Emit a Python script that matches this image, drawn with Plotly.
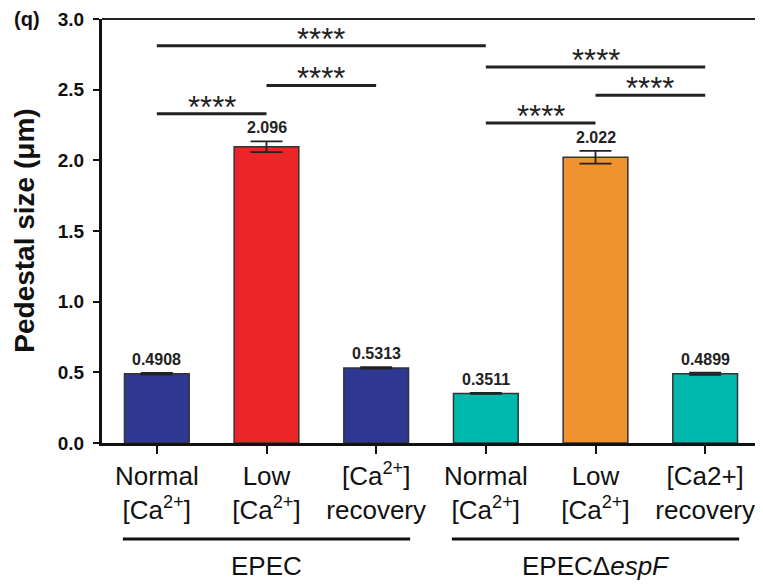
import plotly.graph_objects as go

# ---- data ----
x_pos = [0, 1, 2, 3, 4, 5]
tick_labels = ["Normal<br>[Ca<sup>2+</sup>]", "Low<br>[Ca<sup>2+</sup>]", "[Ca<sup>2+</sup>]<br>recovery",
               "Normal<br>[Ca<sup>2+</sup>]", "Low<br>[Ca<sup>2+</sup>]", "[Ca2+]<br>recovery"]
values = [0.4908, 2.096, 0.5313, 0.3511, 2.022, 0.4899]
errors = [0.006, 0.038, 0.005, 0.004, 0.045, 0.008]
value_labels = ["0.4908", "2.096", "0.5313", "0.3511", "2.022", "0.4899"]
bar_colors = ["#2E3792", "#EC2529", "#2E3792", "#00B8AE", "#F0922F", "#00B8AE"]

sig_start = [0, 1, 0, 3, 4, 3]
sig_end = [3, 2, 1, 5, 5, 4]
sig_level = [2.81, 2.53, 2.33, 2.66, 2.46, 2.265]
sig_text = ["****"] * 6

groups = ["EPEC", "EPECΔ<i>espF</i>"]
group_first = [0, 3]
group_last = [2, 5]

y_ticks = [0.0, 0.5, 1.0, 1.5, 2.0, 2.5, 3.0]
y_tick_text = ["0.0", "0.5", "1.0", "1.5", "2.0", "2.5", "3.0"]

FONT = "Liberation Sans, Arial, Helvetica, sans-serif"

fig = go.Figure()
fig.add_trace(go.Bar(
    x=x_pos, y=values, width=0.59,
    marker=dict(color=bar_colors, line=dict(color="#333333", width=1.5)),
    error_y=dict(type="data", array=errors, visible=True, color="#222222", thickness=1.8, width=16),
    showlegend=False,
))

shapes = []
annotations = []
for xv, v, e, lab in zip(x_pos, values, errors, value_labels):
    annotations.append(dict(x=xv, y=v + e, xref="x", yref="y", text=lab, showarrow=False,
                            yanchor="bottom", yshift=3,
                            font=dict(family=FONT, size=16, color="#222222", weight="bold")))

for s, e, lvl, t in zip(sig_start, sig_end, sig_level, sig_text):
    shapes.append(dict(type="line", xref="x", yref="y", x0=s, x1=e, y0=lvl, y1=lvl,
                       line=dict(color="#222222", width=3)))
    annotations.append(dict(x=(s + e) / 2, y=lvl, xref="x", yref="y", text=t, showarrow=False,
                            yanchor="bottom", yshift=-13,
                            font=dict(family=FONT, size=31, color="#222222")))

for g, a, b in zip(groups, group_first, group_last):
    shapes.append(dict(type="line", xref="x", yref="paper", x0=a - 0.31, x1=b + 0.31,
                       y0=-0.2264, y1=-0.2264, line=dict(color="#111111", width=3)))
    annotations.append(dict(x=(a + b) / 2, y=-0.29, xref="x", yref="paper", text=g,
                            showarrow=False, yanchor="middle",
                            font=dict(family=FONT, size=26, color="#111111")))

# top and right frame
shapes.append(dict(type="line", xref="paper", yref="paper", x0=0, x1=1, y0=1, y1=1,
                   line=dict(color="#222222", width=2.2)))
shapes.append(dict(type="line", xref="paper", yref="paper", x0=1, x1=1, y0=0, y1=1,
                   line=dict(color="#222222", width=2.2)))

annotations.append(dict(x=-0.119, y=0.5, xref="paper", yref="paper", text="Pedestal size (μm)",
                        textangle=-90, showarrow=False, xanchor="center", yanchor="middle",
                        font=dict(family=FONT, size=28, color="#111111", weight="bold")))
annotations.append(dict(x=-0.114, y=1.0, xref="paper", yref="paper", text="(q)",
                        showarrow=False, xanchor="center", yanchor="middle",
                        font=dict(family=FONT, size=20, color="#111111", weight="bold")))

# page body has an 8px margin, so the figure is 8px smaller and offset accordingly
fig.update_layout(
    width=755, height=576,
    margin=dict(l=94, r=3, t=11, b=141, autoexpand=False),
    paper_bgcolor="white", plot_bgcolor="white",
    shapes=shapes, annotations=annotations,
    xaxis=dict(range=[-0.5, 5.5], tickmode="array", tickvals=x_pos, ticktext=tick_labels,
               automargin=False,
               showline=True, linecolor="#111111", linewidth=3, ticks="outside", ticklen=8,
               tickwidth=2, tickcolor="#111111", showgrid=False, zeroline=False,
               tickfont=dict(family=FONT, size=26, color="#111111")),
    yaxis=dict(range=[0, 3.0], tickmode="array", tickvals=y_ticks, ticktext=y_tick_text,
               automargin=False, ticklabelstandoff=5,
               showline=True, linecolor="#111111", linewidth=3, ticks="outside", ticklen=6,
               tickwidth=2, tickcolor="#111111", showgrid=False, zeroline=False,
               tickfont=dict(family=FONT, size=19, color="#111111", weight="bold")),
)

fig.write_html("out.html")
